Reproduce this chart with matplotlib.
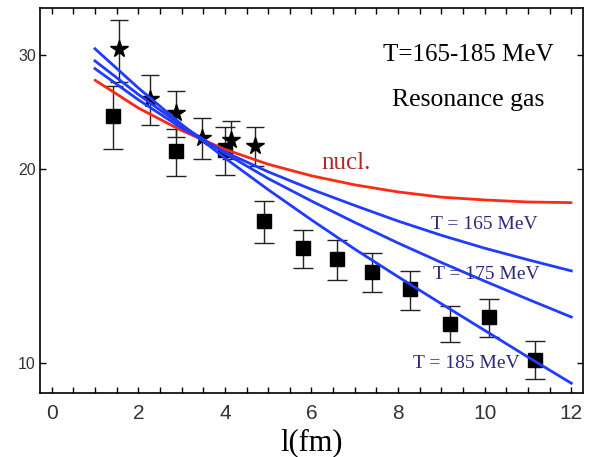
import matplotlib
matplotlib.use("Agg")
import matplotlib.pyplot as plt
import numpy as np

# data points (squares and stars) with symmetric errors
sq_x = [1.41, 2.88, 4.00, 4.91, 5.81, 6.59, 7.40, 8.28, 9.19, 10.09, 11.17]
sq_y = [24.2, 21.3, 21.4, 16.6, 15.07, 14.5, 13.86, 13.02, 11.53, 11.8, 10.14]
sq_err = [2.7, 1.8, 1.8, 1.25, 1.0, 1.05, 0.95, 0.9, 0.75, 0.8, 0.68]

star_x = [1.56, 2.27, 2.88, 3.46, 4.14, 4.69]
star_y = [30.65, 25.7, 24.4, 22.35, 22.2, 21.7]
star_err = [3.4, 2.3, 2.0, 1.6, 1.5, 1.5]

# model curves
curve_x = [1, 2, 3, 4, 5, 6, 7, 8, 9, 10, 11, 12]
nucl = [27.45, 24.86, 22.94, 21.45, 20.34, 19.52, 18.9, 18.43, 18.09, 17.91, 17.78, 17.74]
t165 = [28.6, 25.6, 23.14, 21.25, 19.8, 18.6, 17.56, 16.61, 15.79, 15.08, 14.47, 13.91]
t175 = [29.4, 26.09, 23.35, 21.15, 19.33, 17.84, 16.53, 15.36, 14.33, 13.41, 12.57, 11.8]
t185 = [30.7, 26.7, 23.45, 20.8, 18.58, 16.68, 15.03, 13.62, 12.37, 11.25, 10.23, 9.32]

yticks = [10, 20, 30]
xticks = [0, 2, 4, 6, 8, 10, 12]

red = "#ff2a14"
blue = "#1f3cff"
navy = "#2a2a7a"
serif = ["Liberation Serif", "DejaVu Serif"]

fig = plt.figure(figsize=(5.94, 4.57), dpi=100)
ax = fig.add_axes([0.0673, 0.140, 0.9142, 0.8425])

ax.errorbar(sq_x, sq_y, yerr=sq_err, fmt="s", color="black", ms=10,
            ecolor="#222222", elinewidth=1.0, capsize=7, capthick=1.0, zorder=2)
ax.errorbar(star_x, star_y, yerr=star_err, fmt="*", color="black", ms=13,
            ecolor="#222222", elinewidth=1.0, capsize=6.5, capthick=1.0, zorder=2)

ax.plot(curve_x, nucl, color=red, lw=2.0, solid_capstyle="round",
        solid_joinstyle="round", zorder=3)
for c in (t165, t175, t185):
    ax.plot(curve_x, c, color=blue, lw=2.0, solid_joinstyle="round", zorder=3)

ax.set_yscale("log")
ax.set_xlim(-0.27, 12.27)
ax.set_ylim(9.0, 35.5)
ax.set_yticks(yticks)
ax.set_yticklabels([str(v) for v in yticks])
ax.yaxis.set_minor_locator(matplotlib.ticker.NullLocator())
ax.set_xticks(xticks)
ax.set_xticks(np.arange(0, 12.01, 0.5), minor=True)

ax.tick_params(axis="x", which="both", direction="in", top=True, length=4,
               width=1.0, labelsize=15, pad=8)
ax.tick_params(axis="y", which="both", direction="in", right=True, length=4,
               width=1.0, labelsize=11.5, pad=3)
for lab in ax.get_xticklabels() + ax.get_yticklabels():
    lab.set_family("Liberation Sans")
    lab.set_color("#333333")
for s in ax.spines.values():
    s.set_linewidth(1.2)

ax.set_xlabel("l(fm)", family=serif, fontsize=22, labelpad=4)

ax.text(0.788, 0.878, "T=165-185 MeV", transform=ax.transAxes, family=serif,
        fontsize=18, ha="center", va="center")
ax.text(0.788, 0.761, "Resonance gas", transform=ax.transAxes, family=serif,
        fontsize=18.5, ha="center", va="center")

ax.text(6.79, 20.4, "nucl.", family=serif, fontsize=18, color="#b02828",
        ha="center", va="center")
ax.text(9.99, 16.4, "T = 165 MeV", family=serif, fontsize=14, color=navy,
        ha="center", va="center")
ax.text(10.03, 13.75, "T = 175 MeV", family=serif, fontsize=14, color=navy,
        ha="center", va="center")
ax.text(9.57, 10.0, "T = 185 MeV", family=serif, fontsize=14, color=navy,
        ha="center", va="center")

fig.savefig("out.png", dpi=100)
